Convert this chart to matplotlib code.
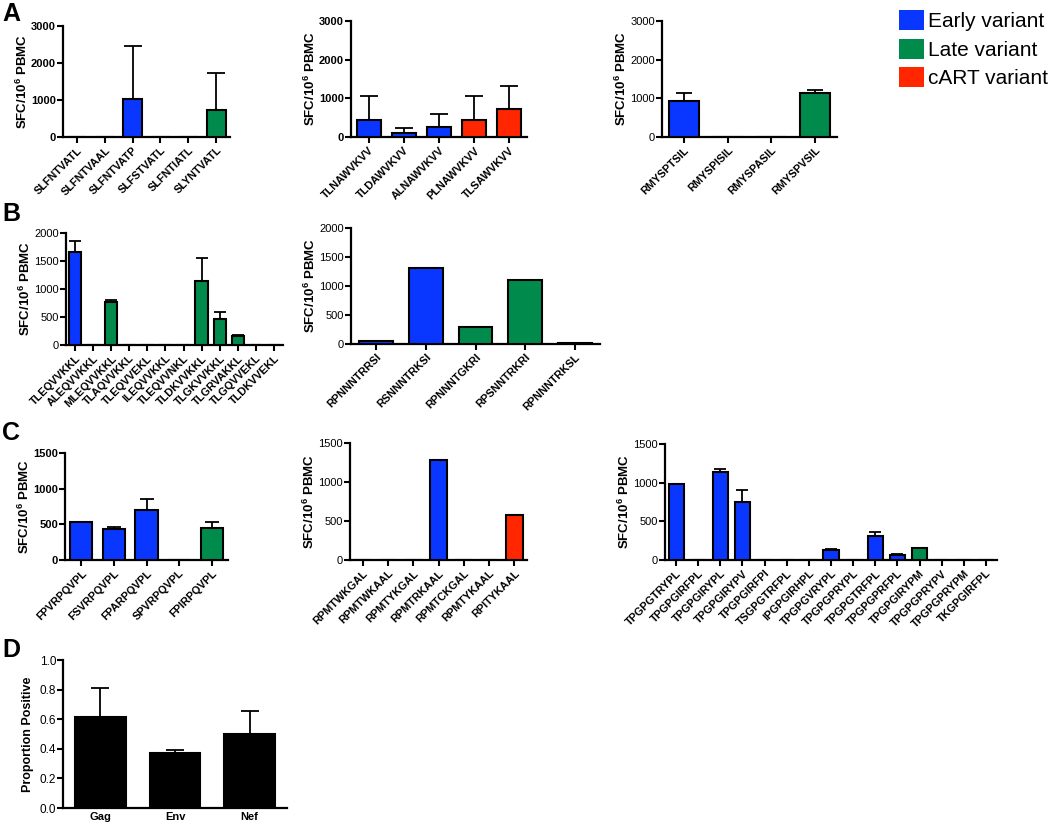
import matplotlib
matplotlib.use('Agg')
import matplotlib.pyplot as plt
from matplotlib.patches import Patch

plt.rcParams['font.family'] = ['Liberation Sans', 'DejaVu Sans']
plt.rcParams['mathtext.fontset'] = 'custom'
plt.rcParams['mathtext.rm'] = 'Liberation Sans'
plt.rcParams['mathtext.bf'] = 'Liberation Sans:bold'

# colours for variant groups
COLORS = {'E': '#0a37ff', 'L': '#008a4c', 'C': '#ff2600', 'K': '#000000'}

# panel A
a1_labels = ['SLFNTVATL', 'SLFNTVAAL', 'SLFNTVATP', 'SLFSTVATL', 'SLFNTIATL', 'SLYNTVATL']
a1_values = [0, 0, 1020, 0, 0, 730]
a1_errors = [0, 0, 1430, 0, 0, 1000]
a1_groups = ['E', 'E', 'E', 'L', 'L', 'L']

a2_labels = ['TLNAWVKVV', 'TLDAWVKVV', 'ALNAWVKVV', 'PLNAWVKVV', 'TLSAWVKVV']
a2_values = [446, 94, 249, 437, 720]
a2_errors = [617, 137, 334, 617, 591]
a2_groups = ['E', 'E', 'E', 'C', 'C']

a3_labels = ['RMYSPTSIL', 'RMYSPISIL', 'RMYSPASIL', 'RMYSPVSIL']
a3_values = [934, 0, 0, 1149]
a3_errors = [215, 0, 0, 60]
a3_groups = ['E', 'E', 'L', 'L']

# panel B
b1_labels = ['TLEQVVKKL', 'ALEQVVKKL', 'MLEQVVKKL', 'TLAQVVKKL', 'TLEQVVEKL', 'ILEQVVKKL',
             'TLEQVVNKL', 'TLDKVVKKL', 'TLGKVVKKL', 'TLGRVAKKL', 'TLGQVVEKL', 'TLDKVVEKL']
b1_values = [1654, 0, 770, 0, 0, 0, 0, 1140, 460, 161, 0, 0]
b1_errors = [209, 0, 36, 0, 0, 0, 0, 406, 125, 18, 0, 0]
b1_groups = ['E', 'L', 'L', 'L', 'L', 'L', 'L', 'L', 'L', 'L', 'L', 'L']

b2_labels = ['RPNNNTRRSI', 'RSNNNTRKSI', 'RPNNNTGKRI', 'RPSNNTRKRI', 'RPNNNTRKSL']
b2_values = [46, 1311, 285, 1100, 17]
b2_errors = [0, 0, 0, 0, 0]
b2_groups = ['E', 'E', 'L', 'L', 'L']

# panel C
c1_labels = ['FPVRPQVPL', 'FSVRPQVPL', 'FPARPQVPL', 'SPVRPQVPL', 'FPIRPQVPL']
c1_values = [530, 431, 703, 0, 450]
c1_errors = [9, 28, 150, 0, 89]
c1_groups = ['E', 'E', 'E', 'L', 'L']

c2_labels = ['RPMTWKGAL', 'RPMTWKAAL', 'RPMTYKGAL', 'RPMTRKAAL', 'RPMTCKGAL', 'RPMTYKAAL', 'RPITYKAAL']
c2_values = [0, 0, 0, 1286, 0, 0, 579]
c2_errors = [0, 0, 0, 0, 0, 0, 0]
c2_groups = ['E', 'E', 'E', 'E', 'E', 'C', 'C']

c3_labels = ['TPGPGTRYPL', 'TPGPGIRFPL', 'TPGPGIRYPL', 'TPGPGIRYPV', 'TPGPGIRFPI',
             'TSGPGTRFPL', 'IPGPGIRHPL', 'TPGPGVRYPL', 'TPGPGPRYPL', 'TPGPGTRFPL',
             'TPGPGPRFPL', 'TPGPGIRYPM', 'TPGPGPRYPV', 'TPGPGPRYPM', 'TKGPGIRFPL']
c3_values = [983, 0, 1138, 754, 0, 0, 0, 129, 0, 315, 65, 151, 0, 0, 0]
c3_errors = [0, 0, 34, 155, 0, 0, 0, 9, 0, 43, 8, 9, 0, 0, 0]
c3_groups = ['E', 'E', 'E', 'E', 'E', 'E', 'E', 'E', 'E', 'E', 'E', 'L', 'L', 'L', 'L']

# panel D
d_labels = ['Gag', 'Env', 'Nef']
d_values = [0.618, 0.369, 0.501]
d_errors = [0.193, 0.022, 0.155]

W, H = 1050, 822
fig = plt.figure(figsize=(W / 100, H / 100), dpi=100)


def px_axes(x0, y0, x1, y1):
  """add axes from pixel box"""
  return fig.add_axes([x0 / W, 1 - y1 / H, (x1 - x0) / W, (y1 - y0) / H])


def bar_panel(box, labels, values, errors, groups, ymax, ystep, ylabel,
              bold_ticks=False, capsize=5, xrot=45, xsize=7.8, ysize=9.5):
  ax = px_axes(*box)
  x = list(range(len(labels)))
  colors = [COLORS[g] for g in groups]
  ax.bar(x, values, width=0.68, color=colors, edgecolor='black', linewidth=1.5, zorder=3)
  ax.errorbar(x, values, yerr=[[0] * len(errors), errors], fmt='none',
              ecolor='black', elinewidth=1.3, capsize=capsize, capthick=1.3, zorder=2)
  ax.set_xlim(-0.5, len(labels) - 0.5)
  ax.set_ylim(0, ymax)
  ax.set_yticks([i * ystep for i in range(int(round(ymax / ystep)) + 1)])
  ax.set_xticks(x)
  if xrot:
    ax.set_xticklabels(labels, rotation=xrot, ha='right', rotation_mode='anchor',
                       fontsize=xsize, fontweight='bold')
  else:
    ax.set_xticklabels(labels, fontsize=xsize, fontweight='bold')
  for s in ['top', 'right']:
    ax.spines[s].set_visible(False)
  for s in ['left', 'bottom']:
    ax.spines[s].set_linewidth(1.6)
  ax.tick_params(axis='both', width=1.5, length=4, direction='out')
  ax.tick_params(axis='y', labelsize=8, pad=1)
  ax.tick_params(axis='x', pad=2)
  if bold_ticks:
    for t in ax.get_yticklabels():
      t.set_fontweight('bold')
  ax.set_ylabel(ylabel, fontsize=ysize, fontweight='bold', labelpad=1)
  return ax


SFC = r'SFC/10$^{\mathbf{6}}$ PBMC'

bar_panel((63, 26, 230, 137), a1_labels, a1_values, a1_errors, a1_groups, 3000, 1000, SFC, True, capsize=6.5)
bar_panel((351, 21, 527, 137), a2_labels, a2_values, a2_errors, a2_groups, 3000, 1000, SFC, True, capsize=6.5)
bar_panel((662, 21, 837, 137), a3_labels, a3_values, a3_errors, a3_groups, 3000, 1000, SFC, capsize=6)

bar_panel((66, 233, 283, 345), b1_labels, b1_values, b1_errors, b1_groups, 2000, 500, SFC, capsize=4)
bar_panel((351, 228, 600, 344), b2_labels, b2_values, b2_errors, b2_groups, 2000, 500, SFC)

bar_panel((65, 453, 228, 560), c1_labels, c1_values, c1_errors, c1_groups, 1500, 500, SFC, True, capsize=5)
bar_panel((350, 443, 527, 560), c2_labels, c2_values, c2_errors, c2_groups, 1500, 500, SFC)
bar_panel((665, 444, 997, 560), c3_labels, c3_values, c3_errors, c3_groups, 1500, 500, SFC, capsize=4)

axd = bar_panel((63, 660, 287, 808), d_labels, d_values, d_errors, ['K'] * 3, 1.0, 0.2,
                'Proportion Positive', capsize=6.5, xrot=0, xsize=8, ysize=9)
axd.set_yticks([0.0, 0.2, 0.4, 0.6, 0.8, 1.0])
axd.set_yticklabels(['0.0', '0.2', '0.4', '0.6', '0.8', '1.0'])
axd.tick_params(axis='y', labelsize=8.5)
axd.tick_params(axis='x', length=0, pad=3)
axd.yaxis.labelpad = 4

# panel letters
for letter, ypx in [('A', 14), ('B', 214), ('C', 433), ('D', 650)]:
  fig.text(2 / W, 1 - ypx / H, letter, fontsize=18, fontweight='bold', va='center', ha='left')

# legend
handles = [Patch(facecolor=COLORS['E'], edgecolor='none', label='Early variant'),
           Patch(facecolor=COLORS['L'], edgecolor='none', label='Late variant'),
           Patch(facecolor=COLORS['C'], edgecolor='none', label='cART variant')]
fig.legend(handles=handles, loc='upper left', bbox_to_anchor=(895 / W, 1 - 6 / H),
           frameon=False, fontsize=15, handlelength=1.2, handleheight=1.1,
           handletextpad=0.2, labelspacing=0.35, borderaxespad=0, borderpad=0.2)

fig.savefig('out.png', dpi=100)
